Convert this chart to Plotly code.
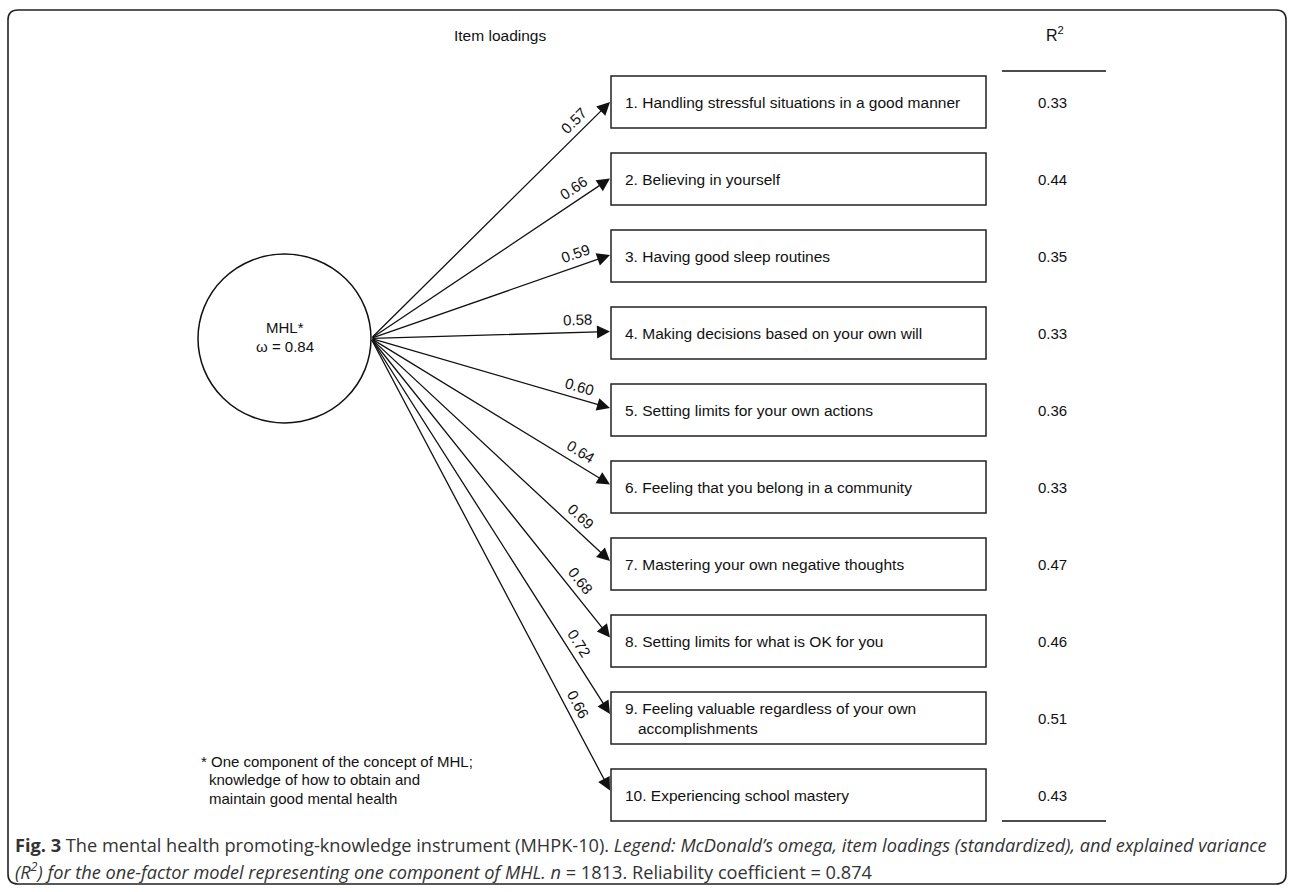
import math
import plotly.graph_objects as go

# ---------------- data ----------------
items = [
    "1. Handling stressful situations in a good manner",
    "2. Believing in yourself",
    "3. Having good sleep routines",
    "4. Making decisions based on your own will",
    "5. Setting limits for your own actions",
    "6. Feeling that you belong in a community",
    "7. Mastering your own negative thoughts",
    "8. Setting limits for what is OK for you",
    "9. Feeling valuable regardless of your own<br>   accomplishments",
    "10. Experiencing school mastery",
]
loadings = [0.57, 0.66, 0.59, 0.58, 0.60, 0.64, 0.69, 0.68, 0.72, 0.66]
r_squared = [0.33, 0.44, 0.35, 0.33, 0.36, 0.33, 0.47, 0.46, 0.51, 0.43]
factor_name = "MHL*"
omega = 0.84
header_loadings = "Item loadings"
header_r2 = "R<sup>2</sup>"
footnote = [
    "* One component of the concept of MHL;",
    "knowledge of how to obtain and",
    "maintain good mental health",
]
caption_1 = ("<b>Fig. 3</b> The mental health promoting-knowledge instrument (MHPK-10). "
             "<i>Legend: McDonald’s omega, item loadings (standardized), and explained variance</i>")
caption_2 = ("<i>(R<sup>2</sup>) for the one-factor model representing one component of MHL. n</i>"
             " = 1813. Reliability coefficient = 0.874")

# ---------------- layout geometry ----------------
W, H = 1292, 892
FONT = "Liberation Sans, Arial, sans-serif"
CAP_FONT = "Open Sans, sans-serif"
INK = "#111111"

box_x0, box_x1 = 611, 986
box_h = 52
first_cy, step = 102, 77
r2_x = 1052
r2_line = (1002, 1106)
circ_cx, circ_cy, circ_rx, circ_ry = 284.5, 338.5, 86.5, 84.5
origin = (circ_cx + circ_rx, circ_cy)

shapes = []
annotations = []

# outer rounded frame
fl, ft, fr, fb, rad = 8, 10, 1286, 884, 10
frame_path = (f"M {fl+rad},{ft} L {fr-rad},{ft} Q {fr},{ft} {fr},{ft+rad} "
              f"L {fr},{fb-rad} Q {fr},{fb} {fr-rad},{fb} L {fl+rad},{fb} "
              f"Q {fl},{fb} {fl},{fb-rad} L {fl},{ft+rad} Q {fl},{ft} {fl+rad},{ft} Z")
shapes.append(dict(type="path", path=frame_path, xref="x", yref="y",
                   line=dict(color="#222222", width=1.6)))

# latent factor ellipse
shapes.append(dict(type="circle", xref="x", yref="y",
                   x0=circ_cx - circ_rx, x1=circ_cx + circ_rx,
                   y0=circ_cy - circ_ry, y1=circ_cy + circ_ry,
                   line=dict(color=INK, width=1.5)))
annotations.append(dict(x=circ_cx, y=circ_cy - 11, text=factor_name, showarrow=False,
                        xref="x", yref="y", font=dict(family=FONT, size=15, color=INK)))
annotations.append(dict(x=circ_cx, y=circ_cy + 8, text=f"ω = {omega:.2f}", showarrow=False,
                        xref="x", yref="y", font=dict(family=FONT, size=15, color=INK)))

# headers
annotations.append(dict(x=500, y=35, text=header_loadings, showarrow=False, xref="x", yref="y",
                        font=dict(family=FONT, size=15.5, color=INK)))
annotations.append(dict(x=1055, y=34, text=header_r2, showarrow=False, xref="x", yref="y",
                        font=dict(family=FONT, size=16, color=INK)))

# R2 column rules
last_cy = first_cy + step * (len(items) - 1)
for yy in (71, last_cy + box_h / 2):
    shapes.append(dict(type="line", xref="x", yref="y", x0=r2_line[0], x1=r2_line[1],
                       y0=yy, y1=yy, line=dict(color=INK, width=1.5)))

for i, (label, lam, r2) in enumerate(zip(items, loadings, r_squared)):
    cy = first_cy + step * i
    # indicator box
    shapes.append(dict(type="rect", xref="x", yref="y", x0=box_x0, x1=box_x1,
                       y0=cy - box_h / 2, y1=cy + box_h / 2,
                       line=dict(color="#222222", width=1.5)))
    annotations.append(dict(x=box_x0 + 12, y=cy, text=label, showarrow=False,
                            xanchor="left", align="left", xref="x", yref="y",
                            font=dict(family=FONT, size=15.5, color=INK)))
    # R2 value
    annotations.append(dict(x=r2_x, y=cy, text=f"{r2:.2f}", showarrow=False,
                            xref="x", yref="y", font=dict(family=FONT, size=15, color=INK)))
    # arrow from factor to indicator
    tip_x, tip_y = box_x0 - 1, cy - 0.5 * i
    annotations.append(dict(x=tip_x, y=tip_y, ax=origin[0], ay=origin[1],
                            xref="x", yref="y", axref="x", ayref="y", text="",
                            showarrow=True, arrowhead=2, arrowsize=2.0, arrowwidth=1.3,
                            arrowcolor=INK, standoff=0, startstandoff=0))
    # loading label along the arrow
    dx, dy = tip_x - origin[0], tip_y - origin[1]
    ln = math.hypot(dx, dy)
    nx, ny = dy / ln, -dx / ln  # normal pointing upward on screen
    t = 0.885 - 0.007 * i
    px = origin[0] + t * dx + 12.5 * nx
    py = origin[1] + t * dy + 12.5 * ny
    ang = math.degrees(math.atan2(dy, dx))
    annotations.append(dict(x=px, y=py, text=f"{lam:.2f}", showarrow=False, textangle=ang,
                            xref="x", yref="y", font=dict(family=FONT, size=15, color=INK)))

# footnote
for j, line in enumerate(footnote):
    annotations.append(dict(x=199 if j == 0 else 207, y=761 + 18.5 * j, text=line,
                            showarrow=False, xanchor="left", xref="x", yref="y",
                            font=dict(family=FONT, size=15, color=INK)))

# caption
for j, cap in enumerate((caption_1, caption_2)):
    annotations.append(dict(x=13, y=845 + 25 * j, text=cap, showarrow=False,
                            xanchor="left", align="left", xref="x", yref="y",
                            font=dict(family=CAP_FONT, size=18.2, color="#333333")))

fig = go.Figure()
fig.add_trace(go.Scatter(x=[0, W], y=[0, H], mode="markers", marker=dict(opacity=0),
                         hoverinfo="skip", showlegend=False))
fig.update_layout(
    width=W, height=H, margin=dict(l=0, r=0, t=0, b=0),
    paper_bgcolor="white", plot_bgcolor="white", showlegend=False,
    xaxis=dict(range=[0, W], visible=False, fixedrange=True),
    yaxis=dict(range=[H, 0], visible=False, fixedrange=True),
    shapes=shapes, annotations=annotations,
)
fig.write_html("out.html", config={"displayModeBar": False},
               post_script="document.body.style.margin='0';document.body.style.overflow='hidden';")
